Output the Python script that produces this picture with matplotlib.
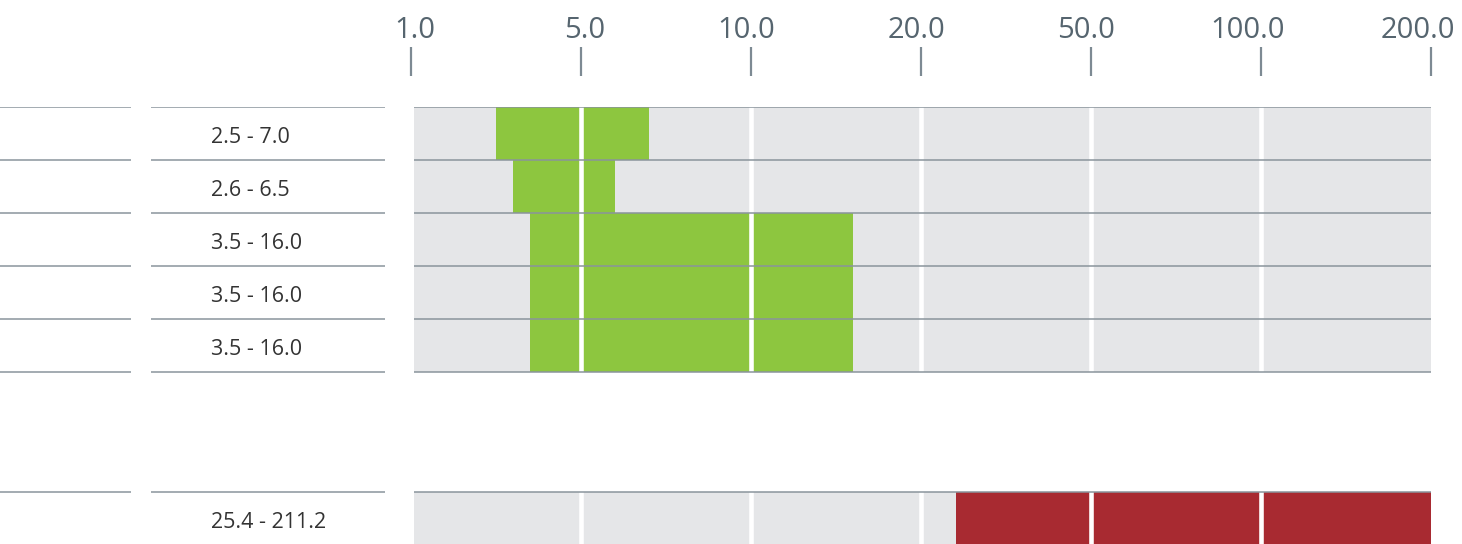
import matplotlib.pyplot as plt
import matplotlib.transforms as mtrans
import numpy as np

plt.rcParams['font.family'] = ['Open Sans', 'DejaVu Sans']

# data
range_labels = ['2.5 - 7.0', '2.6 - 6.5', '3.5 - 16.0', '3.5 - 16.0', '3.5 - 16.0', '25.4 - 211.2']
bar_lo = [2.5, 3.0, 3.5, 3.5, 3.5, 26.2]
bar_hi = [7.0, 6.0, 16.0, 16.0, 16.0, 211.2]
bar_colors = ['#8dc63f'] * 5 + ['#a82a31']
tick_vals = [0, 5, 10, 20, 50, 100, 200]
tick_labels = ['1.0', '5.0', '10.0', '20.0', '50.0', '100.0', '200.0']

# piecewise axis: equal width for each tick segment
breaks = np.array(tick_vals, dtype=float)
idx = np.arange(len(breaks), dtype=float)

def fwd(x):
    return np.interp(x, breaks, idx)

def inv(x):
    return np.interp(x, idx, breaks)

# row layout (second group sits lower)
row_y = [0, 1, 2, 3, 4, 7.264]
ymax = 437 / 53

grey = '#e5e6e8'
line_c = '#8a949c'
txt_c = '#56656f'

fig = plt.figure(figsize=(14.62, 5.44), dpi=100)
ax = fig.add_axes([411 / 1462, 0, 1020 / 1462, 437 / 544])
ax.set_xscale('function', functions=(fwd, inv))
ax.set_xlim(0, 200)
ax.set_ylim(ymax, 0)

# grey background per row (starts a hair right of the first tick)
ax.barh(row_y, [200 - 0.09] * len(row_y), left=0.09, height=1, align='edge', color=grey, zorder=1)
# range bars
widths = [h - l for l, h in zip(bar_lo, bar_hi)]
ax.barh(row_y, widths, left=bar_lo, height=1, align='edge', color=bar_colors, zorder=2)

# white separators at inner ticks
for t in tick_vals[1:-1]:
    ax.axvline(t, color='white', lw=3.3, zorder=3)

# row lines
edges = sorted(set(row_y) | set(y + 1 for y in row_y))
ax.hlines(edges, 0.09, 200, color=line_c, lw=1.1, zorder=4)

for s in ax.spines.values():
    s.set_visible(False)
ax.set_xticks([])
ax.set_yticks([])

# top scale: tick marks and labels (labels sit right-aligned just past each tick)
xtr = ax.get_xaxis_transform()
ax.vlines(tick_vals, (544 - 76) / 437, (544 - 47) / 437, transform=xtr,
          color='#7d8a93', lw=1.6, clip_on=False)
shift = mtrans.ScaledTranslation(24 / 100, 0, fig.dpi_scale_trans)
for t, s in zip(tick_vals, tick_labels):
    ax.text(t, (544 - 38) / 437, s, transform=xtr + shift, ha='right', va='baseline',
            fontsize=21, color=txt_c, clip_on=False)

# label columns
lab = fig.add_axes([0, 0, 385 / 1462, 437 / 544])
lab.set_xlim(0, 385)
lab.set_ylim(ymax, 0)
lab.axis('off')
lab.hlines(edges, 0, 131, color=line_c, lw=1.1)
lab.hlines(edges, 151, 385, color=line_c, lw=1.1)
for y, t in zip(row_y, range_labels):
    lab.text(211, y + 0.68, t, ha='left', va='baseline', fontsize=15.5, color='#333333')

fig.savefig('out.png', dpi=100)
